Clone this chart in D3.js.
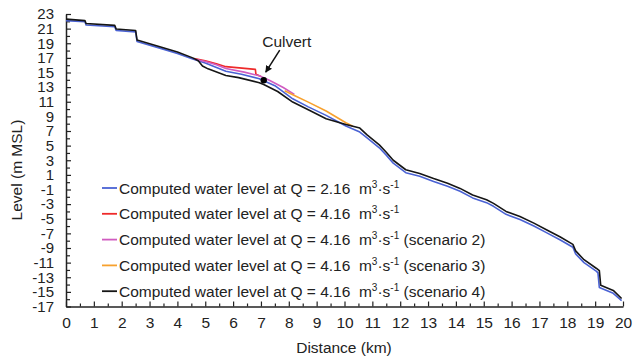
<!DOCTYPE html>
<html>
<head>
<meta charset="utf-8">
<script src="https://cdn.jsdelivr.net/npm/d3@7"></script>
<style>
  body { margin: 0; background: #fff; }
  svg { display: block; }
  text { font-family: "Liberation Sans", Arial, sans-serif; fill: #222; }
</style>
</head>
<body>
<svg id="chart" width="636" height="360"></svg>
<script>
// distance (km), level (m MSL)
const lineQ216 = [[0,22.1],[0.68,21.95],[0.72,21.5],[1.75,21.25],[1.8,20.75],[2.5,20.55],[2.55,19.25],[3.4,18.3],[4.0,17.6],[4.55,16.85],[5.0,16.3],[5.74,15.16],[6.3,14.75],[6.94,14.15],[7.5,13.2],[8.14,11.4],[8.7,10.3],[9.34,9.14],[10.05,7.68],[10.55,6.85],[10.8,6.1],[11.25,4.7],[11.5,3.7],[11.75,2.6],[12.2,1.3],[12.7,0.8],[13.2,0.1],[13.7,-0.55],[14.15,-1.25],[14.6,-2.15],[15.1,-2.8],[15.35,-3.3],[15.8,-4.4],[16.3,-5.1],[16.8,-6.0],[17.25,-6.9],[17.75,-7.9],[18.2,-8.9],[18.3,-9.8],[18.6,-11.0],[19.05,-12.2],[19.1,-12.4],[19.15,-14.4],[19.65,-15.2],[19.95,-16.2]];
const lineQ416 = [[4.6,16.9],[5.0,16.6],[5.4,16.2],[5.74,15.8],[6.8,15.43],[6.82,14.75],[7.0,14.45]];
const lineScen2 = [[4.6,16.85],[5.0,16.5],[5.4,16.05],[5.74,15.55],[6.4,15.05],[6.94,14.55],[7.3,13.95],[7.8,12.95],[8.2,12.0]];
const lineScen3 = [[7.85,12.5],[8.2,11.85],[8.7,10.95],[9.34,9.73],[10.05,8.13],[10.3,7.65]];
const lineScen4 = [[0,22.3],[0.68,22.1],[0.72,21.7],[1.75,21.45],[1.8,20.95],[2.5,20.75],[2.55,19.45],[3.4,18.5],[4.0,17.8],[4.55,17.0],[4.75,16.6],[4.9,15.9],[5.1,15.5],[5.74,14.6],[6.2,14.3],[6.94,13.6],[7.1,13.35],[7.6,12.4],[8.14,10.96],[8.7,9.9],[9.34,8.68],[10.05,7.9],[10.55,7.4],[10.8,6.5],[11.25,5.1],[11.5,4.1],[11.75,3.0],[12.2,1.7],[12.7,1.2],[13.2,0.5],[13.7,-0.15],[14.15,-0.85],[14.6,-1.75],[15.1,-2.4],[15.35,-2.9],[15.8,-4.0],[16.3,-4.7],[16.8,-5.6],[17.25,-6.5],[17.75,-7.5],[18.2,-8.5],[18.3,-9.4],[18.6,-10.6],[19.05,-11.8],[19.15,-12.1],[19.2,-14.1],[19.65,-14.8],[19.95,-15.9]];
const culvert = [7.1, 13.95];

const seriesNames = ["Q = 2.16", "Q = 4.16", "Q = 4.16", "Q = 4.16", "Q = 4.16"];
const seriesSuffix = ["", "", " (scenario 2)", " (scenario 3)", " (scenario 4)"];
const seriesColors = ["#4a62d4", "#ee2a2a", "#d05cc0", "#f7a12e", "#151515"];
const seriesData = [lineQ216, lineQ416, lineScen2, lineScen3, lineScen4];

const xTickLabels = [0,1,2,3,4,5,6,7,8,9,10,11,12,13,14,15,16,17,18,19,20];
const yTickLabels = [23,21,19,17,15,13,11,9,7,5,3,1,-1,-3,-5,-7,-9,-11,-13,-15,-17];

const svg = d3.select("#chart");
const x = d3.scaleLinear().domain([0, 20]).range([66, 623]);
const y = d3.scaleLinear().domain([-17, 23]).range([306.5, 14]);

// minor ticks
svg.append("g").attr("transform", `translate(0,${y(-17)})`)
    .call(d3.axisBottom(x).tickValues(d3.range(0.5, 20, 1)).tickSize(-3).tickFormat(""))
    .call(g => g.select(".domain").remove());
svg.append("g").attr("transform", `translate(${x(0)},0)`)
    .call(d3.axisLeft(y).tickValues(d3.range(-16, 23, 2)).tickSize(-4).tickFormat(""))
    .call(g => g.select(".domain").remove());

svg.append("g").attr("transform", `translate(0,${y(-17)})`)
    .call(d3.axisBottom(x).tickValues(xTickLabels).tickSize(-5).tickSizeOuter(0).tickPadding(10).tickFormat(d => String(d)));
svg.append("g").attr("class", "yax").attr("transform", `translate(${x(0)},0)`)
    .call(d3.axisLeft(y).tickValues(yTickLabels).tickSize(-5).tickSizeOuter(0).tickPadding(12).tickFormat(d => String(d)));

svg.selectAll(".tick line").attr("stroke", "#222").attr("stroke-width", 1.2);
svg.selectAll(".domain").attr("stroke", "#222").attr("stroke-width", 1.5);
svg.selectAll(".tick text").attr("font-size", 15.5).attr("font-family", '"Liberation Sans", Arial, sans-serif').attr("fill", "#222");
svg.selectAll(".yax .tick text").attr("font-size", 15);

// lines
const line = d3.line().x(d => x(d[0])).y(d => y(d[1]));
svg.append("g").selectAll("path").data(seriesData).join("path")
    .attr("d", line).attr("fill", "none")
    .attr("stroke", (d, i) => seriesColors[i]).attr("stroke-width", 1.6)
    .attr("stroke-linejoin", "round");

// culvert marker + arrow
const cx = x(culvert[0]), cy = y(culvert[1]);
svg.append("circle").attr("cx", cx).attr("cy", cy).attr("r", 3.2).attr("fill", "#000");
svg.append("defs").append("marker").attr("id", "ah").attr("viewBox", "0 0 10 10")
    .attr("refX", 9).attr("refY", 5).attr("markerWidth", 7).attr("markerHeight", 7)
    .attr("orient", "auto").attr("markerUnits", "userSpaceOnUse")
    .append("path").attr("d", "M0,0L10,5L0,10z").attr("fill", "#111");
svg.append("line").attr("x1", cx + 16).attr("y1", cy - 30).attr("x2", cx + 2).attr("y2", cy - 8)
    .attr("stroke", "#111").attr("stroke-width", 1.5).attr("marker-end", "url(#ah)");
svg.append("text").attr("x", cx - 1.5).attr("y", cy - 33.5).attr("font-size", 15.5).text("Culvert");

// legend
const legend = svg.append("g");
seriesNames.forEach((name, i) => {
  const ly = 188 + i * 25.8;
  legend.append("line").attr("x1", 102).attr("x2", 117).attr("y1", ly).attr("y2", ly)
      .attr("stroke", seriesColors[i]).attr("stroke-width", 1.8);
  const t = legend.append("text").attr("x", 119).attr("y", ly + 5.5).attr("font-size", 15.5);
  t.append("tspan").text(`Computed water level at ${name}\u00a0\u00a0m`);
  t.append("tspan").attr("font-size", 10).attr("dy", -6).text("3");
  t.append("tspan").attr("font-size", 15.5).attr("dy", 6).text("·s");
  t.append("tspan").attr("font-size", 10).attr("dy", -6).text("-1");
  t.append("tspan").attr("font-size", 15.5).attr("dy", 6).text(seriesSuffix[i]);
});

// axis titles
svg.append("text").attr("x", 344).attr("y", 353).attr("text-anchor", "middle")
    .attr("font-size", 15.5).text("Distance (km)");
svg.append("text").attr("transform", "translate(22,170) rotate(-90)").attr("text-anchor", "middle")
    .attr("font-size", 15.5).text("Level (m MSL)");
</script>
</body>
</html>
